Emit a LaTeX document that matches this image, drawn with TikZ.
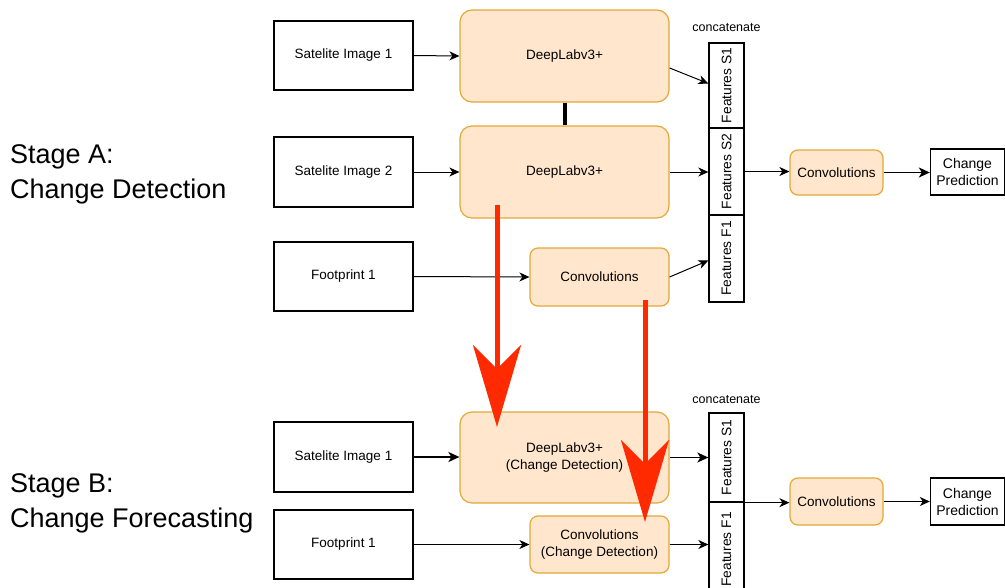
\documentclass[tikz,border=0pt]{standalone}
\usepackage{fontspec}
\setmainfont{Liberation Sans}
\usetikzlibrary{arrows.meta,calc}
\definecolor{ofill}{HTML}{FFE6CC}
\definecolor{ostroke}{HTML}{E2A93A}
\definecolor{redarr}{HTML}{FF2A00}
\begin{document}
\begin{tikzpicture}[x=1pt,y=-1pt,
  plainbox/.style={draw=black, line width=1.3pt, fill=white, inner sep=0pt, font=\fontsize{13.5}{16}\selectfont, align=center},
  obox/.style={draw=ostroke, fill=ofill, line width=1.2pt, rounded corners=12pt, inner sep=0pt, font=\fontsize{13.5}{16.5}\selectfont, align=center},
  sbox/.style={draw=ostroke, fill=ofill, line width=1.2pt, rounded corners=8pt, inner sep=0pt, font=\fontsize{13.5}{16.5}\selectfont, align=center},
  featbox/.style={draw=black, line width=1.3pt, fill=white, inner sep=0pt, minimum width=35pt},
  conn/.style={-{Stealth[length=10pt,width=9pt,inset=3pt]}, line width=1pt, black},
  connthick/.style={-{Stealth[length=11pt,width=10pt,inset=3pt]}, line width=1.7pt, black},
  redarrow/.style={-{Stealth[length=82pt,width=48pt,inset=24pt]}, line width=5pt, redarr},
  stagelbl/.style={anchor=base west, inner sep=0pt, font=\fontsize{27}{32}\selectfont},
  smalltxt/.style={inner sep=0pt, font=\fontsize{12.5}{15}\selectfont},
  vlabel/.style={rotate=90, anchor=center, inner sep=0pt, font=\fontsize{13.8}{16}\selectfont}
]
\useasboundingbox (0,0) rectangle (1005,587);

% Stage labels
\node[stagelbl] (sa1) at (10,163) {Stage A:};
\node[stagelbl] (sa2) at (10,198) {Change Detection};
\node[stagelbl] (sb1) at (10,492) {Stage B:};
\node[stagelbl] (sb2) at (10,527) {Change Forecasting};

% ---------------- Stage A ----------------
\node[plainbox, minimum width=139pt, minimum height=69pt] (siA1) at (343.5,55.5) {Satelite Image 1};
\node[plainbox, minimum width=139pt, minimum height=70pt] (siA2) at (343.5,172) {Satelite Image 2};
\node[plainbox, minimum width=139pt, minimum height=69pt] (fpA) at (343.5,276.5) {Footprint 1};

\node[obox, minimum width=209pt, minimum height=92pt] (dlA1) at (564.5,56) {DeepLabv3+};
\node[obox, minimum width=209pt, minimum height=92pt] (dlA2) at (564.5,172) {DeepLabv3+};
\node[sbox, minimum width=139pt, minimum height=58pt] (cvA) at (599.5,277) {Convolutions};

\draw[line width=4pt, black] (dlA1.south) -- (dlA2.north);

\node[featbox, minimum height=85pt, label={[vlabel]center:Features S1}] (fS1) at (726.5,85.5) {};
\node[featbox, minimum height=87pt, label={[vlabel]center:Features S2}] (fS2) at (726.5,171.5) {};
\node[featbox, minimum height=87pt, label={[vlabel]center:Features F1}] (fF1) at (726.5,258.5) {};
\node[smalltxt] (catA) at (726.5,28) {concatenate};

\node[sbox, minimum width=93pt, minimum height=45pt] (cvA2) at (836.5,172.5) {Convolutions};
\node[plainbox, minimum width=74pt, minimum height=46pt, font=\fontsize{14}{17}\selectfont] (cpA) at (967.5,172) {Change\\Prediction};

\draw[conn] (siA1.east) -- (dlA1.west);
\draw[conn] (siA2.east) -- (dlA2.west);
\draw[conn] (fpA.east) -- (cvA.west);
\draw[conn] ($(dlA1.east)+(0,12)$) -- ($(fS1.west)+(0,-2)$);
\draw[conn] (dlA2.east) -- (dlA2.east -| fS2.west);
\draw[conn] (cvA.east) -- ($(fF1.west)+(0,2)$);
\draw[conn] (fS2.east) -- (fS2.east -| cvA2.west);
\draw[connthick] (cvA2.east) -- (cvA2.east -| cpA.west);

% ---------------- Stage B ----------------
\node[plainbox, minimum width=139pt, minimum height=70pt] (siB1) at (343.5,457) {Satelite Image 1};
\node[plainbox, minimum width=139pt, minimum height=69pt] (fpB) at (343.5,544.5) {Footprint 1};

\node[obox, minimum width=209pt, minimum height=91pt] (dlB) at (564.5,457.5) {DeepLabv3+\\(Change Detection)};
\node[sbox, minimum width=139pt, minimum height=57pt] (cvB) at (599.5,544.5) {Convolutions\\(Change Detection)};

\node[featbox, minimum height=89pt, label={[vlabel]center:Features S1}] (gS1) at (726.5,457.5) {};
\node[featbox, minimum height=95pt, label={[vlabel]center:Features F1}] (gF1) at (726.5,549.5) {};
\node[smalltxt] (catB) at (726.5,400) {concatenate};

\node[sbox, minimum width=93pt, minimum height=47pt] (cvB2) at (836.5,501.5) {Convolutions};
\node[plainbox, minimum width=74pt, minimum height=47pt, font=\fontsize{14}{17}\selectfont] (cpB) at (967.5,501.5) {Change\\Prediction};

\draw[connthick] (siB1.east) -- (siB1.east -| dlB.west);
\draw[conn] (fpB.east) -- (fpB.east -| cvB.west);
\draw[connthick] (dlB.east) -- (dlB.east -| gS1.west);
\draw[conn] (cvB.east) -- (cvB.east -| gF1.west);
\draw[conn] (gS1.south west) -- (gS1.south west -| cvB2.west);
\draw[conn] (cvB2.east) -- (cvB2.east -| cpB.west);

% ---------------- Red transfer arrows ----------------
\coordinate (r1s) at (497,205);
\coordinate (r1e) at (497,427);
\coordinate (r2s) at (645,300);
\coordinate (r2e) at (645,522);
\draw[redarrow] (r1s) -- (r1e);
\draw[redarrow] (r2s) -- (r2e);
\end{tikzpicture}
\end{document}
